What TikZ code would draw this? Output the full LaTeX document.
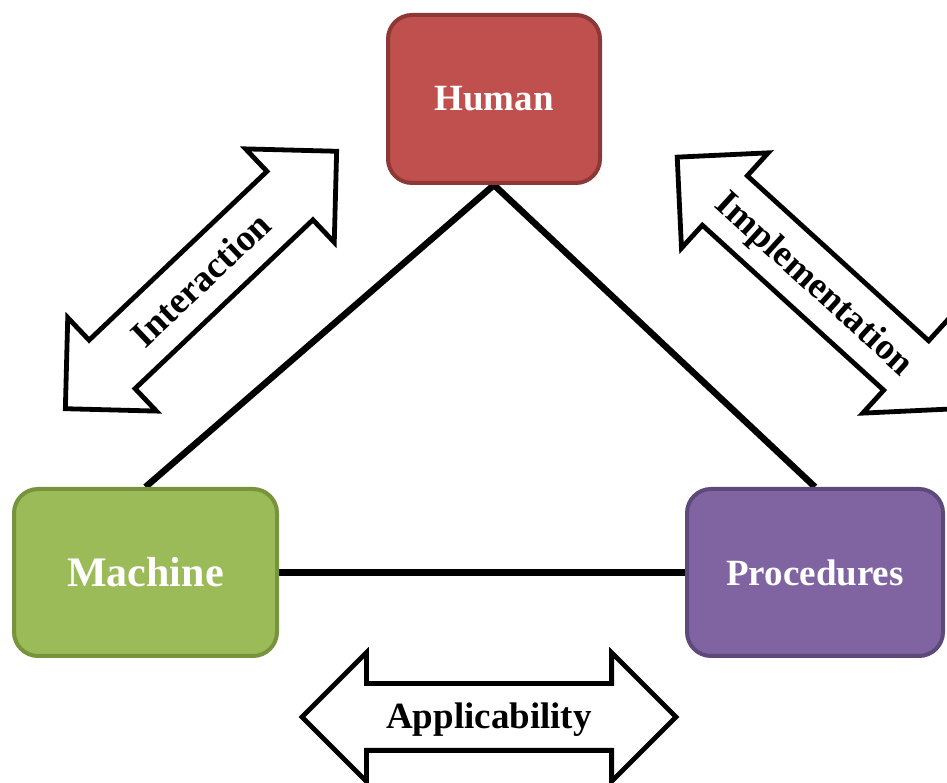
\documentclass[tikz,border=0pt]{standalone}
\usepackage{fontspec}
\setmainfont{Liberation Serif}
\usetikzlibrary{shapes.arrows}
\definecolor{humanfill}{HTML}{C0504D}
\definecolor{humanline}{HTML}{8C3836}
\definecolor{machinefill}{HTML}{9BBB59}
\definecolor{machineline}{HTML}{77933C}
\definecolor{procfill}{HTML}{8064A2}
\definecolor{procline}{HTML}{5E4A7A}
\pgfdeclarelayer{background}
\pgfsetlayers{background,main}
\begin{document}
\begin{tikzpicture}[x=1pt,y=1pt,
  box/.style={draw, line width=4pt, rounded corners=24pt, text=white,
    font=\bfseries\fontsize{37}{44}\selectfont, inner sep=0pt},
  dblarrow/.style={double arrow, draw=black, fill=white, line width=4.8pt,
    double arrow tip angle=90, double arrow head extend=31pt,
    minimum height=374pt, text height=29pt, text depth=5pt,
    inner xsep=0pt, inner ysep=14pt,
    font=\bfseries\fontsize{37}{44}\selectfont},
  link/.style={line width=6.5pt, line join=miter}]
\useasboundingbox (0,0) rectangle (947,783);
\clip (0,0) rectangle (947,783);

% the three parties
\node[box, fill=humanfill, draw=humanline, minimum width=212pt, minimum height=168pt] (human) at (494,684) {Human};
\node[box, fill=machinefill, draw=machineline, minimum width=263pt, minimum height=167pt,
  font=\bfseries\fontsize{42}{50}\selectfont] (machine) at (145.5,210.5) {Machine};
\node[box, fill=procfill, draw=procline, minimum width=256pt, minimum height=167pt] (procedures) at (815,210.5) {Procedures};

% triangle of links behind the boxes
\begin{pgfonlayer}{background}
\draw[link] (machine.north) -- (human.south) -- (procedures.north);
\draw[link] (machine.east) -- (procedures.west);
\end{pgfonlayer}

% relation arrows
\node[dblarrow, rotate=43.5] (interaction) at (201,503) {Interaction};
\node[dblarrow, rotate=-42.3] (implementation) at (815.5,500) {Implementation};
\node[dblarrow] (applicability) at (489,66) {Applicability};
\end{tikzpicture}
\end{document}
